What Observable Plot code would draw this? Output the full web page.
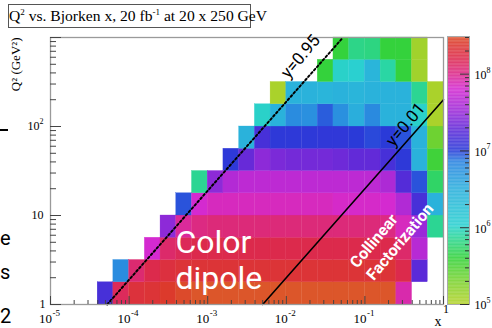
<!DOCTYPE html>
<html><head><meta charset="utf-8">
<script src="https://cdn.jsdelivr.net/npm/d3@7"></script>
<script src="https://cdn.jsdelivr.net/npm/@observablehq/plot@0.6"></script>
<style>
body{margin:0;background:#fff;}
#wrap{position:relative;width:492px;height:328px;overflow:hidden;}
#wrap svg{position:absolute;top:0;}
#title{position:absolute;left:8px;top:4px;width:243px;height:24px;border:1px solid #555;box-sizing:border-box;
 font:15.6px "Liberation Serif",serif;text-align:center;line-height:22px;background:#fff;white-space:nowrap;z-index:2;}
#title sup{font-size:9px;vertical-align:0;position:relative;top:-6px;}
.stray{position:absolute;font:20px Roboto,sans-serif;color:#000;line-height:1;}
</style></head><body>
<div id="wrap">
  <div id="title">Q<sup>2</sup> vs. Bjorken x, 20 fb<sup>-1</sup> at 20 x 250 GeV</div>
  <div style="position:absolute;left:0;top:129px;width:8px;height:2px;background:#000"></div>
  <div class="stray" style="left:0;top:228px">e</div>
  <div class="stray" style="left:0;top:262px">s</div>
  <div class="stray" style="left:0;top:306px">2</div>
</div>
<script>
// ---- binning (log10 edges) ----
const xLogStart = -5, xLogStep = 0.2;   // Bjorken x
const yLogStart = 0,  yLogStep = 0.25;  // Q^2

// ---- log10(counts) per Q^2 bin row (row0 = lowest Q^2), 25 x-bins each ----
const _ = null;
const row0  = [_,_,_,7.15,8.15,8.3,8.33,8.4,8.45,8.49,8.49,8.49,8.49,8.49,8.49,8.49,8.49,8.49,8.49,8.49,8.49,8.49,7.9,_,_];
const row1  = [_,_,_,_,6.78,8.08,8.2,8.28,8.32,8.33,8.33,8.33,8.33,8.33,8.33,8.33,8.33,8.33,8.33,8.33,8.33,8.33,8.2,7.25,_];
const row2  = [_,_,_,_,_,_,7.8,8.1,8.16,8.2,8.2,8.2,8.2,8.2,8.2,8.2,8.2,8.2,8.2,8.2,8.2,8.2,8.1,7.65,_];
const row3  = [_,_,_,_,_,_,_,7.45,7.95,8.02,8.05,8.05,8.05,8.05,8.05,8.05,8.05,8.05,8.05,8.05,8.05,8.02,7.85,7.5,5.85];
const row4  = [_,_,_,_,_,_,_,_,6.95,7.8,7.85,7.85,7.85,7.85,7.85,7.85,7.85,7.85,7.82,7.82,7.82,7.8,7.62,7.15,6.45];
const row5  = [_,_,_,_,_,_,_,_,_,5.85,7.45,7.63,7.68,7.68,7.68,7.68,7.68,7.68,7.68,7.68,7.68,7.6,7.22,6.95,5.72];
const row6  = [_,_,_,_,_,_,_,_,_,_,_,7.02,7.3,7.45,7.38,7.35,7.35,7.35,7.33,7.28,7.28,7.15,7.02,6.45,5.55];
const row7  = [_,_,_,_,_,_,_,_,_,_,_,_,6.45,7.15,7.02,7.02,7.02,7.03,7.03,7.0,6.97,7.0,6.95,6.45,5.35];
const row8  = [_,_,_,_,_,_,_,_,_,_,_,_,_,6.0,6.45,6.78,6.75,6.93,6.75,6.5,6.8,6.45,6.45,6.0,5.05];
const row9  = [_,_,_,_,_,_,_,_,_,_,_,_,_,_,5.05,6.45,6.45,6.4,6.45,6.4,6.45,6.45,6.45,5.85,5.05];
const row10 = [_,_,_,_,_,_,_,_,_,_,_,_,_,_,_,_,_,5.6,6.0,6.02,6.4,5.9,5.6,5.1,_];
const row11 = [_,_,_,_,_,_,_,_,_,_,_,_,_,_,_,_,_,_,5.6,5.82,5.8,5.6,5.6,5.1,_];
const rows = [row0,row1,row2,row3,row4,row5,row6,row7,row8,row9,row10,row11];

// ---- kinematic lines (x, Q^2) endpoints ----
const lineY095 = [{x: 1/19000, q2: 1}, {x: 1000/19000, q2: 1000}];
const lineY001 = [{x: 0.005, q2: 1}, {x: 1, q2: 200}];

// ---- annotations ----
const kinLabels = ["y=0.95", "y=0.01"];
const kinLabelX = [0.0152, 0.329];
const kinLabelQ2 = [612, 105];
const regionText = ["Color\ndipole"];
const regionX = [3.89e-4], regionQ2 = [3.2];
const collText = ["Collinear", "Factorization"];
const collX = [0.1306, 0.28], collQ2 = [5.17, 5.04];

// ---- ticks ----
const xMajor = [1e-5, 1e-4, 1e-3, 1e-2, 1e-1, 1];
const xLabelExp = ["-5", "-4", "-3", "-2", "-1"];
const xMinor = [-5,-4,-3,-2,-1].flatMap(d => [2,3,4,5,6,7,8,9].map(k => k * 10 ** d));
const yMajor = [1, 10, 100, 1000];
const yMinor = [0,1,2].flatMap(d => [2,3,4,5,6,7,8,9].map(k => k * 10 ** d));
const zMajor = [1e5, 1e6, 1e7, 1e8];
const zLabelExp = ["5", "6", "7", "8"];
const zMax = 10 ** 8.49;
const zMinor = [5,6,7,8].flatMap(d => [2,3,4,5,6,7,8,9].map(k => k * 10 ** d)).filter(v => v < zMax);

// ---- colour palette (log10 counts) ----
const colorStops = [5.0,5.3,5.6,5.9,6.02,6.5,6.85,7.0,7.25,7.5,7.8,8.0,8.2,8.4,8.49];
const colorRange = ["#b4d22a","#7ad230","#34d23c","#2ad6a4","#2ad0d0","#2aaedc","#2a84e0","#2a3ad8","#5a2ad8","#9a2ad8","#d42ad0","#dc2a88","#dc2a4c","#dc3a2c","#dc562a"];
const colorOpts = {type: "linear", domain: colorStops, range: colorRange, clamp: true};

const cells = [];
rows.forEach((r, j) => r.forEach((v, i) => {
  if (v == null) return;
  cells.push({
    x1: 10 ** (xLogStart + i * xLogStep), x2: 10 ** (xLogStart + (i + 1) * xLogStep),
    y1: 10 ** (yLogStart + j * yLogStep), y2: 10 ** (yLogStart + (j + 1) * yLogStep), v
  });
}));

const serif = "Liberation Serif";
const FW = 492 - 50 - 49, FH = 328 - 37 - 24;

const main = Plot.plot({
  width: 492, height: 328,
  marginLeft: 50, marginRight: 49, marginTop: 37, marginBottom: 24,
  x: {type: "log", domain: [1e-5, 1], axis: null},
  y: {type: "log", domain: [1, 1000], axis: null},
  color: colorOpts,
  style: {background: "transparent", overflow: "visible"},
  marks: [
    Plot.rect(cells, {x1: "x1", x2: "x2", y1: "y1", y2: "y2", fill: "v", stroke: "v", strokeWidth: 0.3}),
    Plot.line(lineY095, {x: "x", y: "q2", stroke: "#000", strokeWidth: 2, strokeDasharray: "2,2.4"}),
    Plot.line(lineY001, {x: "x", y: "q2", stroke: "#000", strokeWidth: 1.6}),
    Plot.frame({stroke: "#9a9a9a", strokeWidth: 1.3}),
    Plot.tickX(xMajor, {x: d => d, insetTop: FH - 8, stroke: "#444"}),
    Plot.tickX(xMinor, {x: d => d, insetTop: FH - 4, stroke: "#444"}),
    Plot.tickY(yMajor, {y: d => d, insetRight: FW - 11, stroke: "#444"}),
    Plot.tickY(yMinor, {y: d => d, insetRight: FW - 6, stroke: "#444"}),
    // x tick labels
    Plot.text(xMajor.slice(0, 5), {x: d => d, frameAnchor: "bottom", text: () => "10", textAnchor: "end",
      dx: 1.5, dy: 18, lineAnchor: "bottom", fontSize: 13, fontFamily: serif, fill: "#000"}),
    Plot.text(xMajor.slice(0, 5), {x: d => d, frameAnchor: "bottom", text: (d, i) => xLabelExp[i], textAnchor: "start",
      dx: 2, dy: 11, lineAnchor: "bottom", fontSize: 9, fontFamily: serif, fill: "#000"}),
    Plot.text([1], {x: d => d, frameAnchor: "bottom", text: () => "1", textAnchor: "start", dx: -0.5, dy: 8.5, lineAnchor: "bottom",
      fontSize: 12, fontFamily: serif, fill: "#000"}),
    Plot.text(["x"], {frameAnchor: "bottom-right", text: d => d, textAnchor: "end", dx: -2, dy: 21, lineAnchor: "bottom",
      fontSize: 14, fontFamily: serif, fill: "#000"}),
    // y tick labels
    Plot.text([1], {y: d => d, frameAnchor: "left", text: () => "1", textAnchor: "end", dx: -5, fontSize: 12, fontFamily: serif, fill: "#000"}),
    Plot.text([10], {y: d => d, frameAnchor: "left", text: () => "10", textAnchor: "end", dx: -7, fontSize: 12, fontFamily: serif, fill: "#000"}),
    Plot.text([100], {y: d => d, frameAnchor: "left", text: () => "10", textAnchor: "end", dx: -11, fontSize: 12, fontFamily: serif, fill: "#000"}),
    Plot.text([100], {y: d => d, frameAnchor: "left", text: () => "2", textAnchor: "start", dx: -11, dy: -5, fontSize: 8, fontFamily: serif, fill: "#000"}),
    // y axis title
    Plot.text(["Q² (GeV²)"], {frameAnchor: "top-left", text: d => d, rotate: -90, textAnchor: "end", lineAnchor: "bottom",
      dx: -31, dy: 0, fontSize: 13, fontFamily: serif, fill: "#000"}),
    // annotations
    Plot.text(kinLabels, {x: (d, i) => kinLabelX[i], y: (d, i) => kinLabelQ2[i], text: d => d, rotate: -50,
      fontSize: 17, fontFamily: "Roboto", fill: "#000"}),
    Plot.text(regionText, {x: (d, i) => regionX[i], y: (d, i) => regionQ2[i], text: d => d, textAnchor: "start",
      lineAnchor: "middle", lineHeight: 1.12, fontSize: 32, fontFamily: "Roboto", fill: "#fff"}),
    Plot.text(collText, {x: (d, i) => collX[i], y: (d, i) => collQ2[i], text: d => d, rotate: -50,
      fontSize: 16, fontWeight: "bold", fontFamily: "Roboto", fill: "#fff"})
  ]
});

const cbSteps = d3.range(5, 8.49, 0.01);
const cb = Plot.plot({
  width: 52, height: 328,
  marginLeft: 7, marginRight: 23, marginTop: 36, marginBottom: 24,
  x: {domain: [0, 1], axis: null},
  y: {type: "log", domain: [1e5, zMax], axis: null},
  color: colorOpts,
  style: {background: "transparent", overflow: "visible"},
  marks: [
    Plot.rect(cbSteps, {x1: 0, x2: 1, y1: d => 10 ** d, y2: d => 10 ** Math.min(d + 0.011, 8.49), fill: d => d}),
    Plot.frame({stroke: "#aaa"}),
    Plot.tickY(zMajor, {y: d => d, insetLeft: 22 - 9, stroke: "#333"}),
    Plot.tickY(zMinor, {y: d => d, insetLeft: 22 - 4, stroke: "#333"}),
    Plot.text(zMajor, {y: d => d, frameAnchor: "right", text: () => "10", textAnchor: "start", dx: 5, dy: 1,
      fontSize: 12, fontFamily: serif, fill: "#000"}),
    Plot.text(zMajor, {y: d => d, frameAnchor: "right", text: (d, i) => zLabelExp[i], textAnchor: "start", dx: 17, dy: -4,
      fontSize: 8, fontFamily: serif, fill: "#000"})
  ]
});

const wrap = document.getElementById("wrap");
main.style.left = "0px";
cb.style.left = "440px";
wrap.appendChild(main);
wrap.appendChild(cb);
</script>
</body></html>
